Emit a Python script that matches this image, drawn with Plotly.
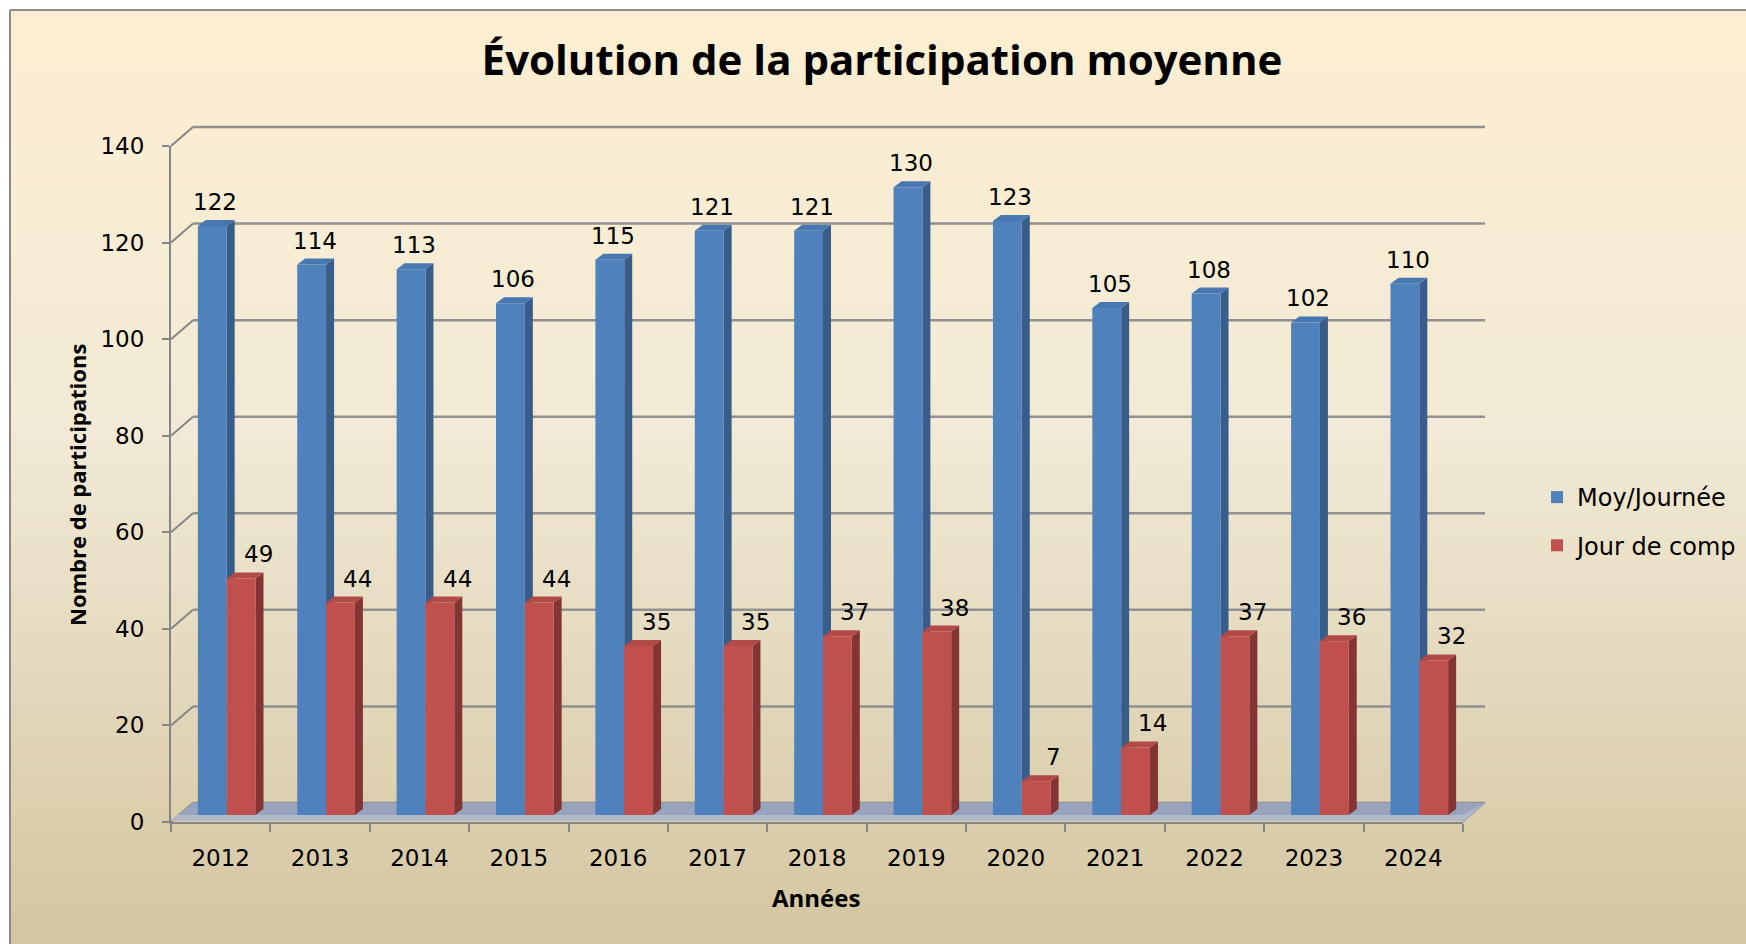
import plotly.graph_objects as go

# ---------------- data ----------------
years = ["2012", "2013", "2014", "2015", "2016", "2017", "2018",
         "2019", "2020", "2021", "2022", "2023", "2024"]
moy_journee = [122, 114, 113, 106, 115, 121, 121, 130, 123, 105, 108, 102, 110]
jour_comp = [49, 44, 44, 44, 35, 35, 37, 38, 7, 14, 37, 36, 32]
y_ticks = [0, 20, 40, 60, 80, 100, 120, 140]
series_names = ["Moy/Journée", "Jour de comp"]

# ---------------- geometry / style ----------------
W, H = 1746, 944


def fx(p):
    return p / W


def fy(p):
    return 1 - p / H


YMAX = 140
FX0, FX1 = 171, 1463      # front plane (axis) x extent, px
FY0, FY1 = 822, 146       # front plane y pixel of 0 and YMAX
BDX, BDY = 6, 7           # bar plane offset
WDX, WDY = 22, 19         # back wall offset
ppu = (FY0 - FY1) / YMAX
ncat = len(years)
catpx = (FX1 - FX0) / ncat
bw = 0.29                 # bar width in category units
bw_px = bw * catpx
side_dx = 8
depth_u = 6 / ppu
lab_dx = 0.03


def front_y(v):
    """pixel row of value v on the front (axis) plane, same scale as yaxis2"""
    return FY0 - v * ppu


BLUE, BLUE_SIDE, BLUE_TOP = "#4F81BD", "#385D8A", "#4878B2"
RED, RED_SIDE, RED_TOP = "#C0504D", "#843432", "#B24A47"
AX_GRAY = "#868686"
GRID_GRAY = "#919191"
FONT = "DejaVu Sans"
TFONT = "Open Sans"
FS = 23

idx = list(range(ncat))

fig = go.Figure()
# empty trace so that the front-axis subplot (x2/y2) is created and drawn
fig.add_trace(go.Scatter(x=[], y=[], xaxis="x2", yaxis="y2", showlegend=False,
                         hoverinfo="skip"))
fig.add_trace(go.Bar(
    x=idx, y=moy_journee, name=series_names[0], xaxis="x3", yaxis="y3",
    offset=-bw, width=bw, marker=dict(color=BLUE, line=dict(width=0)),
    legendgroup="a", hoverinfo="skip"))
fig.add_trace(go.Bar(
    x=idx, y=jour_comp, name=series_names[1], xaxis="x3", yaxis="y3",
    offset=0, width=bw, marker=dict(color=RED, line=dict(width=0)),
    legendgroup="b", hoverinfo="skip"))

shapes = []

# background gradient (frame interior)
stops = [(0.0, (253, 238, 209)), (0.45, (242, 234, 214)), (1.0, (212, 198, 161))]


def grad(t):
    for (t0, c0), (t1, c1) in zip(stops[:-1], stops[1:]):
        if t <= t1:
            u = (t - t0) / (t1 - t0)
            return "rgb(%d,%d,%d)" % tuple(round(a + (b - a) * u) for a, b in zip(c0, c1))
    return "rgb(%d,%d,%d)" % stops[-1][1]


NS = 90
top_px = 10
for k in range(NS):
    y0p = top_px + (H - top_px) * k / NS
    y1p = top_px + (H - top_px) * (k + 1) / NS + 1
    shapes.append(dict(type="rect", xref="paper", yref="paper", layer="below",
                       x0=fx(10), x1=1, y0=fy(min(y1p, H)), y1=fy(y0p),
                       fillcolor=grad(k / (NS - 1)), line=dict(width=0)))
# frame border
shapes.append(dict(type="line", xref="paper", yref="paper", layer="below",
                   x0=fx(10), x1=1, y0=fy(10), y1=fy(10), line=dict(color="#8A8A8A", width=2)))
shapes.append(dict(type="line", xref="paper", yref="paper", layer="below",
                   x0=fx(10), x1=fx(10), y0=fy(10), y1=0, line=dict(color="#8A8A8A", width=2)))

# back wall gridlines + left wall connectors
for v in y_ticks:
    yb = front_y(v) - WDY
    shapes.append(dict(type="line", xref="paper", yref="paper", layer="below",
                       x0=fx(FX0 + WDX), x1=fx(FX1 + WDX), y0=fy(yb), y1=fy(yb),
                       line=dict(color=GRID_GRAY, width=2.5)))
    shapes.append(dict(type="line", xref="paper", yref="paper", layer="below",
                       x0=fx(FX0), x1=fx(FX0 + WDX), y0=fy(front_y(v)), y1=fy(yb),
                       line=dict(color=AX_GRAY, width=2)))

# floor
shapes.append(dict(type="path", xref="paper", yref="paper", layer="below",
                   path="M %f,%f L %f,%f L %f,%f L %f,%f Z" % (
                       fx(FX0), fy(FY0 - 1), fx(FX0 + WDX), fy(FY0 - WDY),
                       fx(FX1 + WDX), fy(FY0 - WDY), fx(FX1), fy(FY0 - 1)),
                   fillcolor="#98A3BD", line=dict(width=0)))
shapes.append(dict(type="path", xref="paper", yref="paper", layer="below",
                   path="M %f,%f L %f,%f L %f,%f L %f,%f L %f,%f Z" % (
                       fx(FX0 + 6), fy(FY0 - BDY), fx(FX1), fy(FY0 - BDY),
                       fx(FX1 + WDX), fy(FY0 - WDY),
                       fx(FX1), fy(FY0 - 1), fx(FX0), fy(FY0 - 1)),
                   fillcolor="#B3B9C8", line=dict(width=0)))
shapes.append(dict(type="line", xref="paper", yref="paper", layer="below",
                   x0=fx(FX1), y0=fy(FY0), x1=fx(FX1 + WDX), y1=fy(FY0 - WDY),
                   line=dict(color="#A3A9B8", width=1.5)))

# 3D faces of the bars
for i, (vb, vr) in enumerate(zip(moy_journee, jour_comp)):
    for left, v, cs, ct in ((-bw_px, vb, BLUE_SIDE, BLUE_TOP), (0, vr, RED_SIDE, RED_TOP)):
        right = left + bw_px
        shapes.append(dict(
            type="path", xref="x3", yref="y3", layer="below",
            xsizemode="pixel", xanchor=i,
            path="M %f,%f L %f,%f L %f,%f L %f,%f Z" % (
                right, 0, right + side_dx, depth_u, right + side_dx, v + depth_u, right, v),
            fillcolor=cs, line=dict(width=0)))
        shapes.append(dict(
            type="path", xref="x3", yref="y3", layer="below",
            xsizemode="pixel", xanchor=i,
            path="M %f,%f L %f,%f L %f,%f L %f,%f Z" % (
                left, v, left + side_dx, v + depth_u, right + side_dx, v + depth_u, right, v),
            fillcolor=ct, line=dict(width=0)))

annotations = []
for i, (vb, vr) in enumerate(zip(moy_journee, jour_comp)):
    annotations.append(dict(x=i - bw / 2 + lab_dx, y=vb, xref="x3", yref="y3", text=str(vb),
                            showarrow=False, xanchor="center", yanchor="bottom", yshift=9,
                            font=dict(family=FONT, size=FS, color="#000")))
    annotations.append(dict(x=i + bw + lab_dx, y=vr, xref="x3", yref="y3", text=str(vr),
                            showarrow=False, xanchor="center", yanchor="bottom", yshift=9,
                            font=dict(family=FONT, size=FS, color="#000")))

annotations.append(dict(x=fx(77), y=fy(485), xref="paper", yref="paper",
                        xanchor="center", yanchor="middle",
                        text="<b>Nombre de participations</b>", textangle=-90,
                        showarrow=False, font=dict(family=TFONT, size=22, color="#000")))
annotations.append(dict(x=fx(816), y=fy(897), xref="paper", yref="paper",
                        xanchor="center", yanchor="middle",
                        text="<b>Années</b>", showarrow=False,
                        font=dict(family=TFONT, size=24, color="#000")))

fig.update_layout(
    width=W, height=H, autosize=False,
    margin=dict(l=0, r=0, t=0, b=0, pad=0),
    paper_bgcolor="white", plot_bgcolor="rgba(0,0,0,0)",
    barmode="overlay",
    title=dict(text="<b>Évolution de la participation moyenne</b>",
               x=fx(882), xanchor="center", y=fy(60), yanchor="middle",
               xref="paper", yref="container", automargin=False,
               font=dict(family=TFONT, size=42, color="#000")),
    showlegend=True,
    legend=dict(x=fx(1537), y=fy(475), xanchor="left", yanchor="top",
                font=dict(family=FONT, size=24, color="#000"),
                bgcolor="rgba(0,0,0,0)", tracegroupgap=14, itemwidth=30),
    # front axes
    xaxis2=dict(domain=[fx(FX0), fx(FX1)], anchor="y2", range=[-0.5, 12.5],
                tickvals=idx, ticktext=years, ticks="", showgrid=False, zeroline=False,
                showline=True, linecolor=AX_GRAY, linewidth=2, automargin=False,
                tickfont=dict(family=FONT, size=FS, color="#000"), ticklabelstandoff=14,
                minor=dict(tickvals=[i - 0.5 for i in range(ncat + 1)], ticks="outside",
                           ticklen=8, tickcolor=AX_GRAY, tickwidth=2, showgrid=False)),
    yaxis2=dict(domain=[fy(FY0), fy(FY1)], anchor="x2", range=[0, YMAX],
                tickvals=y_ticks, ticks="outside", ticklen=7, tickcolor=AX_GRAY, tickwidth=2,
                showline=True, linecolor=AX_GRAY, linewidth=2, showgrid=False, zeroline=False,
                automargin=False,
                tickfont=dict(family=FONT, size=FS, color="#000"), ticklabelstandoff=13),
    # bar plane
    xaxis3=dict(domain=[fx(FX0 + BDX), fx(FX1 + BDX)], anchor="y3", range=[-0.5, 12.5],
                visible=False, automargin=False),
    yaxis3=dict(domain=[fy(FY0 - BDY), fy(FY1 - BDY)], anchor="x3", range=[0, YMAX],
                visible=False, automargin=False),
    xaxis=dict(visible=False), yaxis=dict(visible=False),
    shapes=shapes,
    annotations=annotations,
)

fig.write_html("out.html",
               config={"displayModeBar": False},
               post_script="document.body.style.margin='0px';"
                           "document.body.style.overflow='hidden';")
